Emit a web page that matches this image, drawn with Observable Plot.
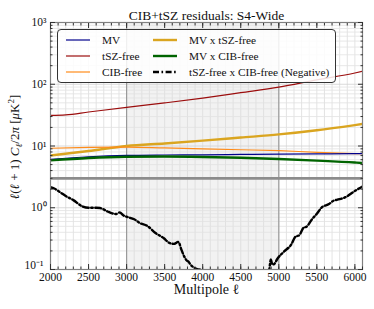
<!DOCTYPE html>
<html><head><meta charset="utf-8">
<script src="https://cdn.jsdelivr.net/npm/d3@7"></script>
<script src="https://cdn.jsdelivr.net/npm/@observablehq/plot@0.6"></script>
<style>
body{margin:0;background:#fff;}
#wrap{position:relative;width:374px;height:309px;font-family:"Liberation Serif",serif;color:#111;}
#ylab{position:absolute;left:15px;top:147px;transform:translate(-50%,-50%) rotate(-90deg);white-space:nowrap;font-size:13px;}
#ylab i{font-style:italic;}
#legend{position:absolute;left:57px;top:29px;width:279px;height:54px;border:1.2px solid #333;border-radius:4px;background:rgba(255,255,255,0.85);box-sizing:border-box;}
.li{position:absolute;height:16px;display:flex;align-items:center;font-size:11.3px;white-space:nowrap;}
.li svg{margin-right:12px;}
</style></head><body><div id="wrap"><div id="ylab"></div></div>
<script>
// ---- data ----
const ellA = [2000, 2500, 3000, 3500, 4000, 4500, 5000, 5500, 6000, 6100];
const mvVals      = [6.1, 6.7, 7.05, 7.15, 7.2, 7.3, 7.4, 7.45, 7.5, 7.5];
const cibFreeVals = [9.2, 9.5, 9.6, 9.3, 9.0, 8.7, 8.4, 7.9, 7.55, 7.5];
const mvTszVals   = [7.0, 8.3, 10.0, 11.0, 12.2, 13.7, 15.4, 18.0, 21.8, 22.7];
const mvCibVals   = [5.85, 6.4, 6.7, 6.75, 6.65, 6.45, 6.15, 5.8, 5.4, 5.3];
const ellT = [2000, 2200, 2500, 3000, 3500, 4000, 4500, 5000, 5500, 6000, 6100];
const tszFreeVals = [31.3, 32, 35.5, 42.2, 49.8, 59.5, 73, 90, 118, 152, 162];
const ellN = [2000, 2050, 2130, 2200, 2300, 2420, 2500, 2600, 2650, 2750, 2800, 2860, 2910, 2960, 3010, 3100, 3180, 3270, 3380, 3490, 3560, 3620, 3680, 3720, 3750, 3790, 3810, 3840, 3900, 3950, 4000, 4060, 4300,
              4860, 4875, 4895, 4915, 4945, 4980, 5070, 5160, 5220, 5270, 5330, 5360, 5440, 5500, 5560, 5660, 5720, 5770, 5880, 5990, 6100];
const negVals = [2.15, 2.05, 1.77, 1.55, 1.33, 1.05, 1.0, 1.0, 0.99, 0.87, 0.82, 0.79, 0.84, 0.75, 0.71, 0.65, 0.56, 0.51, 0.39, 0.32, 0.27, 0.26, 0.28, 0.21, 0.17, 0.14, 0.135, 0.12, 0.105, 0.1, 0.097, 0.085, null,
                 0.085, 0.1, 0.145, 0.12, 0.125, 0.148, 0.196, 0.25, 0.34, 0.36, 0.48, 0.49, 0.66, 0.8, 1.0, 1.15, 1.3, 1.35, 1.49, 1.84, 2.21];
const bandRange = [{x1: 3000, x2: 5000}];
const vLines = [3000, 5000];
const hLines = [3];
const xTicksMajor = [2000, 2500, 3000, 3500, 4000, 4500, 5000, 5500, 6000];
const yTicksMajor = [0.1, 1, 10, 100, 1000];

const series = [
  {name: "MV", ell: ellA, vals: mvVals, color: "#00008b", w: 1.2},
  {name: "tSZ-free", ell: ellT, vals: tszFreeVals, color: "#9b0d0d", w: 1.2},
  {name: "CIB-free", ell: ellA, vals: cibFreeVals, color: "#ff8c1a", w: 1.2},
  {name: "MV x tSZ-free", ell: ellA, vals: mvTszVals, color: "#daa520", w: 2.4},
  {name: "MV x CIB-free", ell: ellA, vals: mvCibVals, color: "#006400", w: 2.4},
  {name: "tSZ-free x CIB-free (Negative)", ell: ellN, vals: negVals, color: "#000", w: 2.4, dash: "6,2.5,1.6,2.5"}
];
const drawOrder = [3, 2, 0, 4, 1, 5];

// ---- helpers ----
const xTicksMinor = d3.range(2000, 6101, 100);
const yTicksMinor = d3.range(-1, 3).flatMap(e => d3.range(2, 10).map(m => m * 10 ** e));
const supMap = {"-": "\u207B", "0": "\u2070", "1": "\u00B9", "2": "\u00B2", "3": "\u00B3"};
const fmtY = d => "10" + String(Math.round(Math.log10(d))).split("").map(c => supMap[c]).join("");
const rows = s => s.ell.map((l, i) => ({l, v: s.vals[i]}));

const lineMarks = drawOrder.map(i => {
  const s = series[i];
  return Plot.line(rows(s), {x: "l", y: "v", stroke: s.color, strokeWidth: s.w, strokeDasharray: s.dash, curve: "monotone-x", clip: true,
    defined: d => d.v != null});
});

const tickStroke = "#333";
const chart = Plot.plot({
  width: 374, height: 309,
  marginLeft: 50, marginRight: 12, marginTop: 22, marginBottom: 40,
  style: {fontFamily: "Liberation Serif, serif", background: "#fff", color: "#111"},
  x: {domain: [2000, 6100]},
  y: {type: "log", domain: [0.1, 1000]},
  marks: [
    Plot.rect(bandRange, {x1: "x1", x2: "x2", fill: "#f2f2f2"}),
    Plot.ruleX(xTicksMinor, {stroke: "#dcdcdc", strokeWidth: 0.8}),
    Plot.ruleY(yTicksMinor, {stroke: "#e2e2e2", strokeWidth: 0.8}),
    Plot.ruleY(yTicksMajor, {stroke: "#d0d0d0", strokeWidth: 0.8}),
    Plot.ruleX(vLines, {stroke: "#9a9a9a", strokeWidth: 1.2}),
    Plot.ruleY(hLines, {stroke: "#8c8c8c", strokeWidth: 2.8}),
    ...lineMarks,
    Plot.frame({stroke: "#808080", strokeWidth: 1.2}),
    // inward ticks
    Plot.axisX(xTicksMajor, {anchor: "bottom", tickSize: -5, tickFormat: () => "", stroke: tickStroke, label: null}),
    Plot.axisX(xTicksMinor, {anchor: "bottom", tickSize: -2.5, tickFormat: () => "", stroke: tickStroke, label: null}),
    Plot.axisX(xTicksMajor, {anchor: "top", tickSize: -5, tickFormat: () => "", stroke: tickStroke, label: null}),
    Plot.axisX(xTicksMinor, {anchor: "top", tickSize: -2.5, tickFormat: () => "", stroke: tickStroke, label: null}),
    Plot.axisY(yTicksMajor, {anchor: "left", tickSize: -5, tickFormat: () => "", stroke: tickStroke, label: null}),
    Plot.axisY(yTicksMinor, {anchor: "left", tickSize: -2.5, tickFormat: () => "", stroke: tickStroke, label: null}),
    Plot.axisY(yTicksMajor, {anchor: "right", tickSize: -5, tickFormat: () => "", stroke: tickStroke, label: null}),
    Plot.axisY(yTicksMinor, {anchor: "right", tickSize: -2.5, tickFormat: () => "", stroke: tickStroke, label: null}),
    // labels
    Plot.axisX(xTicksMajor, {anchor: "bottom", tickSize: 0, tickPadding: 3, fontSize: 11.5, tickFormat: d => String(d), label: null, fill: "#111"}),
    Plot.axisY(yTicksMajor.slice(1), {anchor: "left", tickSize: 0, tickPadding: 4, fontSize: 11.5, tickFormat: fmtY, label: null, fill: "#111"}),
    Plot.axisY(yTicksMajor.slice(0, 1), {anchor: "left", tickSize: 0, tickPadding: 7, dy: -4, fontSize: 11.5, tickFormat: fmtY, label: null, fill: "#111"}),
    Plot.text(["Multipole \u2113"], {frameAnchor: "bottom", dy: 24, fontSize: 14, fill: "#111"}),
    Plot.text(["CIB+tSZ residuals: S4-Wide"], {frameAnchor: "top", dy: -12, fontSize: 13.5, fill: "#111"})
  ]
});
const wrap = document.getElementById("wrap");
wrap.prepend(chart);
chart.style.display = "block";

document.getElementById("ylab").innerHTML = '<i>\u2113</i>(<i>\u2113</i> + 1) <i>C</i><sub style="font-size:9px"><i>\u2113</i></sub>/2<i>\u03C0</i> [<i>\u03BC</i>K<sup style="font-size:9px">2</sup>]';

// legend
const legend = document.createElement("div");
legend.id = "legend";
wrap.appendChild(legend);
const colX = [8, 95];
const rowY = [2, 18, 34];
series.forEach((s, i) => {
  const col = Math.floor(i / 3), row = i % 3;
  const el = document.createElement("div");
  el.className = "li";
  el.style.left = colX[col] + "px";
  el.style.top = rowY[row] + "px";
  el.innerHTML = `<svg width="24" height="6"><line x1="0" x2="24" y1="3" y2="3" stroke="${s.color}" stroke-width="${s.w}" ${s.dash ? `stroke-dasharray="${s.dash}"` : ""}/></svg><span>${s.name}</span>`;
  legend.appendChild(el);
});
</script></body></html>
